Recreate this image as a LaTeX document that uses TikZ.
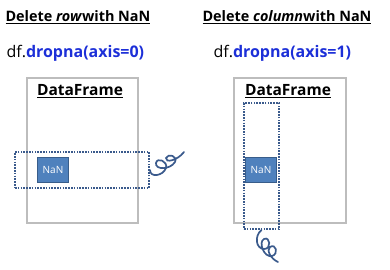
\documentclass[tikz,border=0pt]{standalone}
\usepackage{fontspec}
\setmainfont{Open Sans}
\definecolor{nanblue}{HTML}{4F81BD}
\definecolor{nanedge}{HTML}{385D8A}
\definecolor{dotblue}{HTML}{3A5A8C}
\definecolor{codeblue}{HTML}{1C2FD8}
\definecolor{framegray}{HTML}{BDBDBD}
\tikzset{
  titletext/.style={anchor=west, font=\fontsize{14.4}{16}\selectfont\bfseries},
  codetext/.style={anchor=west, font=\fontsize{16}{18}\selectfont},
  framebox/.style={draw=framegray, line width=2pt, anchor=north west, inner sep=0pt},
  dotbox/.style={draw=dotblue, line width=2pt, dash pattern=on 1.6pt off 1.2pt, anchor=north west, inner sep=0pt},
  nanbox/.style={fill=nanblue, draw=nanedge, line width=1pt, text=white, anchor=north west,
    minimum width=31pt, minimum height=25pt, inner sep=0pt, font=\fontsize{10}{12}\selectfont},
  squig/.style={draw=dotblue, line width=1.7pt, line cap=round}
}
\begin{document}
\begin{tikzpicture}[x=1pt,y=-1pt]
\useasboundingbox (0,0) rectangle (390,269);
% delete row
\node[titletext] (title0) at (2,17) {\underline{Delete \textit{row}with NaN}};
\node[codetext] (code0) at (3,53) {df.\textcolor{codeblue}{\bfseries dropna(axis=0)}};
\node[framebox, minimum width=111pt, minimum height=145pt] (df0) at (26,77) {};
\node[font=\fontsize{15.5}{18}\selectfont\bfseries] (head0) at (80,91) {\underline{DataFrame}};
\node[dotbox, minimum width=134pt, minimum height=36pt] (row0) at (14,151) {};
\node[nanbox] (nan0) at (37,157) {NaN};
\coordinate (end0) at (184,152);
\draw[squig] (row0.east) .. controls (150,178) and (163,176) .. (166,168)
  .. controls (168,161) and (157,157) .. (156,163)
  .. controls (155,170) and (170,170) .. (175,162)
  .. controls (178,156) and (168,153) .. (166,158)
  .. controls (165,163) and (177,161) .. (end0);
% delete column
\node[titletext] (title1) at (199,17) {\underline{Delete \textit{column}with NaN}};
\node[codetext] (code1) at (210,53) {df.\textcolor{codeblue}{\bfseries dropna(axis=1)}};
\node[framebox, minimum width=112pt, minimum height=145pt] (df1) at (233,77) {};
\node[font=\fontsize{15.5}{18}\selectfont\bfseries] (head1) at (288,91) {\underline{DataFrame}};
\node[dotbox, minimum width=35pt, minimum height=126pt] (col1) at (243,102) {};
\node[nanbox] (nan1) at (245,157) {NaN};
\coordinate (end1) at (278,262);
\draw[squig] (col1.south) .. controls (254,236) and (256,249) .. (264,249)
  .. controls (272,249) and (270,236) .. (264,239)
  .. controls (258,242) and (264,258) .. (272,256)
  .. controls (279,254) and (276,243) .. (270,247)
  .. controls (266,250) and (271,259) .. (end1);
\end{tikzpicture}
\end{document}
